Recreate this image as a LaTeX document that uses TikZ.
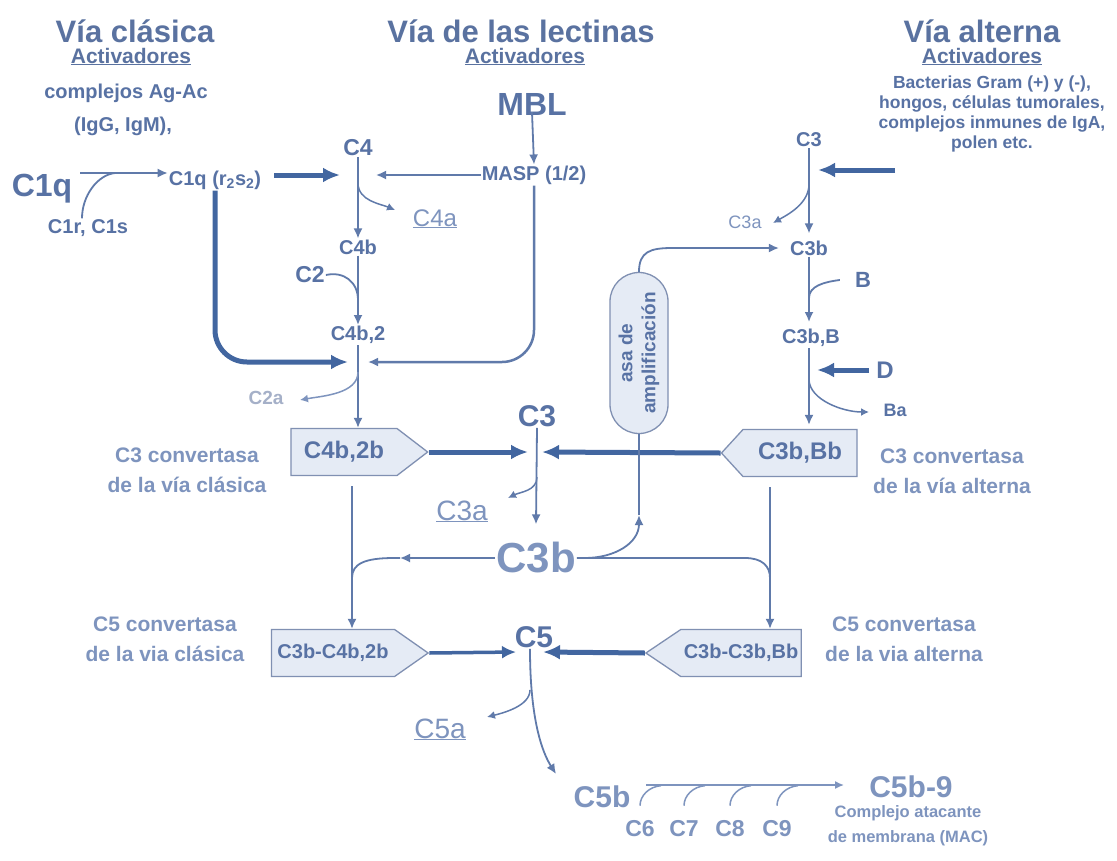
\documentclass[tikz,border=0pt]{standalone}
\usepackage{fontspec}
\setmainfont{Liberation Sans}
\usetikzlibrary{arrows.meta,shapes.symbols,shapes.misc}

\definecolor{titleblue}{RGB}{90,114,160}
\definecolor{inkblue}{RGB}{88,114,164}
\definecolor{paleblue}{RGB}{126,148,190}
\definecolor{greyblue}{RGB}{165,176,200}
\definecolor{lineblue}{RGB}{96,122,170}
\definecolor{heavyblue}{RGB}{66,102,160}
\definecolor{boxfill}{RGB}{229,235,245}
\definecolor{boxline}{RGB}{128,144,178}

\newcommand{\fsz}[1]{\fontsize{#1}{#1}\selectfont}

\tikzset{
  ttl/.style={text=titleblue, font=\bfseries\fsz{31}, inner sep=0pt},
  actv/.style={text=titleblue, font=\bfseries\fsz{21}, inner sep=0pt},
  lbl/.style={text=inkblue, font=\bfseries\fsz{#1}, inner sep=1pt},
  lbl/.default=20,
  pale/.style={text=paleblue, font=\bfseries\fsz{#1}, inner sep=1pt},
  frag/.style={text=paleblue, font=\fsz{#1}, inner sep=1pt},
  note/.style={text=paleblue, font=\bfseries\fontsize{21}{30}\selectfont, align=center, inner sep=1pt},
  conv/.style={signal, signal to=#1, draw=boxline, fill=boxfill, line width=1.3pt,
    minimum height=47pt, inner ysep=2pt, text=inkblue},
  pill/.style={rounded rectangle, rotate=90, draw=boxline, fill=boxfill, line width=1.3pt,
    minimum width=163pt, minimum height=58pt, inner sep=1pt, align=center, text=inkblue,
    font=\bfseries\fontsize{19}{23}\selectfont},
  plain/.style={draw=lineblue, line width=1.8pt},
  flow/.style={plain, -{Latex[length=10pt,width=9pt]}},
  side/.style={draw=lineblue, line width=1.5pt, -{Latex[length=8pt,width=8pt]}},
  med/.style={draw=heavyblue, line width=3.5pt, -{Latex[length=14pt,width=13pt]}},
  heavy/.style={draw=heavyblue, line width=5pt, -{Latex[length=17pt,width=15pt]}},
  faint/.style={draw=paleblue, line width=1.5pt},
}

\begin{document}
\begin{tikzpicture}[x=1pt,y=-1pt]
\useasboundingbox[fill=white] (0,0) rectangle (1117,860);

% activators
\node[ttl, anchor=base] (tclas) at (135,42) {Vía clásica};
\node[actv, anchor=base] (aclas) at (131,63) {\underline{Activadores}};
\node[lbl] (agac) at (126,93) {complejos Ag-Ac};
\node[lbl] (igm) at (123,126) {(IgG, IgM),};
\node[ttl, anchor=base] (tlec) at (521,42) {Vía de las lectinas};
\node[actv, anchor=base] (alec) at (525,63) {\underline{Activadores}};
\node[lbl=32] (mbl) at (532,104) {MBL};
\node[ttl, anchor=base] (talt) at (982,42) {Vía alterna};
\node[actv, anchor=base] (aalt) at (982,63) {\underline{Activadores}};
\node[lbl, font=\bfseries\fontsize{17.5}{20}\selectfont, align=center] (bact) at (992,114)
  {Bacterias Gram (+) y (-),\\hongos, células tumorales,\\complejos inmunes de IgA,\\polen etc.};

% classical and lectin pathways
\node[lbl=32, anchor=base] (c1q) at (42,196) {C1q};
\node[lbl] (c1rs) at (88,228) {C1r, C1s};
\node[lbl] (c1qr) at (215,180) {C1q (r\textsubscript{2}s\textsubscript{2})};
\node[lbl=23] (c4) at (358,148) {C4};
\node[frag=24, anchor=base] (c4a) at (435,226) {\underline{C4a}};
\node[lbl] (masp) at (534,175) {MASP (1/2)};
\node[lbl] (c4b) at (358,247) {C4b};
\node[lbl=23] (c2) at (310,275) {C2};
\node[lbl] (c4b2) at (358,335) {C4b,2};
\node[text=greyblue, font=\bfseries\fsz{19}, inner sep=1pt] (c2a) at (266,398) {C2a};
\node[conv=east, font=\bfseries\fsz{24}, inner xsep=13pt, signal pointer angle=75] (cv1) at (344,452) {C4b,2b};
\node[note] (cl3) at (187,470) {C3 convertasa\\de la vía clásica};

\coordinate (k0) at (80,173);
\coordinate (k1) at (115,173);
\coordinate (k4) at (358,175);
\coordinate (kc2) at (358,300);
\coordinate (k42) at (358,362);
\coordinate (c4atip) at (395,210);
\coordinate (c2atip) at (300,400);

\draw[flow] (k0) -- (c1qr.west |- k0);
\draw[plain] ([xshift=-6pt]c1rs.north) .. controls +(0,-22) and +(-18,2) .. (k1);
\draw[heavy, shorten <=12pt] (c1qr.east |- k4) -- ([xshift=-18pt]k4);
\draw[flow] (masp.west) -- ([xshift=18pt]k4);
\draw[flow] ([yshift=4pt]mbl.south) -- (masp.north);
\draw[flow] (c4.south) -- (c4b.north);
\draw[side] ([yshift=-8pt]k4) .. controls +(0,18) and +(-14,-6) .. (c4atip);
\draw[flow] (c4b.south) -- (c4b2.north);
\draw[plain] (c2.east) .. controls +(18,-4) and +(0,-18) .. (kc2);
\draw[heavy, rounded corners=32pt] (c1qr.south) |- ([xshift=-10pt]k42);
\draw[flow, line width=2.5pt, rounded corners=32pt] (masp.south) |- ([xshift=10pt]k42);
\draw[flow] (c4b2.south) -- (c4b2.south |- cv1.north);
\draw[faint, -{Latex[length=8pt,width=8pt]}] ([yshift=-10pt]k42) .. controls +(0,22) and +(22,-4) .. (c2atip);

% C3 level
\node[lbl=30] (c3) at (537,416) {C3};
\node[frag=28, anchor=base] (c3a) at (462,520) {\underline{C3a}};
\node[pale=42] (c3b) at (536,558) {C3b};

% alternative pathway
\node[lbl] (c3r) at (809,140) {C3};
\node[frag=18] (c3ar) at (745,222) {C3a};
\node[lbl] (c3br) at (809,248) {C3b};
\node[lbl=22] (fb) at (863,280) {B};
\node[lbl] (c3bB) at (811,338) {C3b,B};
\node[lbl=24] (fd) at (885,370) {D};
\node[lbl=18] (ba) at (895,410) {Ba};
\node[conv=west, font=\bfseries\fsz{24}, inner xsep=15pt, signal pointer angle=95] (cv2) at (800,453) {C3b,Bb};
\node[note] (cr3) at (952,471) {C3 convertasa\\de la vía alterna};
\node[pill] (pill) at (639,353) {asa de\\amplificación};

\coordinate (k3) at (537,452);
\coordinate (c3atip) at (508,498);
\coordinate (k3r) at (809,170);
\coordinate (altsrc) at (895,170);
\coordinate (c3artip) at (773,223);
\coordinate (kb) at (809,298);
\coordinate (kd) at (809,370);
\coordinate (batip) at (869,412);

\draw[heavy] (cv1.east) -- ([xshift=-9pt]k3);
\draw[heavy] (cv2.west) -- ([xshift=5pt]k3);
\draw[flow] (c3.south) -- ([yshift=17pt]c3b.north);
\draw[side] ([yshift=-25pt]k3) .. controls +(0,14) and +(12,-6) .. (c3atip);

\draw[flow, shorten >=6pt] (c3r.south) -- (c3r.south |- c3br.north);
\draw[heavy] (altsrc) -- ([xshift=9pt]k3r);
\draw[side] ([yshift=-14pt]k3r) .. controls +(0,20) and +(14,-8) .. (c3artip);
\draw[flow, shorten >=6pt] (c3br.south) -- (c3br.south |- c3bB.north);
\draw[plain] ([xshift=-14pt]fb.west) .. controls +(-16,2) and +(0,-12) .. (kb);
\draw[flow, shorten >=4pt] (c3br.south |- c3bB.south) -- (c3br.south |- cv2.north);
\draw[heavy] ([xshift=-6pt]fd.west) -- ([xshift=8pt]kd);
\draw[side] ([yshift=-10pt]kd) .. controls +(1,20) and +(-26,0) .. (batip);

% amplification loop
\coordinate (ampup) at (639,515);
\coordinate (kamp) at (672,248);
\draw[flow] (pill.east) .. controls +(0,-20) and +(-22,0) .. (kamp) -- ([xshift=-10pt]c3br.west);
\draw[flow] ([xshift=8pt]c3b.east) .. controls +(30,0) and +(0,28) .. (ampup);
\draw[plain] (ampup) -- (pill.west);

% C5 convertases
\node[conv=east, font=\bfseries\fsz{20}, inner xsep=6pt, signal pointer angle=70] (cv3) at (333,653) {C3b-C4b,2b};
\node[conv=west, font=\bfseries\fsz{20}, inner xsep=3pt, signal pointer angle=68] (cv4) at (741,653) {C3b-C3b,Bb};
\node[note] (cl5) at (165,639) {C5 convertasa\\de la via clásica};
\node[note] (cr5) at (904,639) {C5 convertasa\\de la via alterna};

\coordinate (kl) at (352,500);
\coordinate (kr) at (770,500);
\coordinate (ml) at (400,558);
\coordinate (klj) at (352,578);
\coordinate (krj) at (770,578);

\draw[flow, shorten <=10pt] (cv1.south -| kl) -- (cv3.north -| kl);
\draw[flow] (c3b.west) -- (ml);
\draw[plain] (ml) -- ++(-6,0) .. controls +(-30,0) and +(0,-14) .. (klj);
\draw[plain] (c3b.east) -- (745,558) .. controls +(17,0) and +(0,-12) .. (krj);
\draw[flow, shorten <=10pt] (cv2.south -| kr) -- (cv4.north -| kr);

% C5 and MAC
\node[lbl=30] (c5) at (534,637) {C5};
\node[frag=28, anchor=base] (c5a) at (440,738) {\underline{C5a}};
\node[pale=30] (c5b) at (602,797) {C5b};
\node[pale=30] (c59) at (911,787) {C5b-9};
\node[text=paleblue, align=center, inner sep=0pt, font=\bfseries\fontsize{16.5}{25}\selectfont] (mac) at (908,826)
  {Complejo atacante\\de membrana (MAC)};

\coordinate (k5) at (530,652);
\coordinate (c5atip) at (487,717);
\coordinate (c5btip) at (556,774);
\coordinate (k9) at (646,785);
\coordinate (c59tip) at (844,785);

\draw[med] (cv3.east) -- ([xshift=-14pt]k5);
\draw[heavy] (cv4.west) -- ([xshift=13pt]k5);
\draw[flow] (c5.south -| k5) .. controls +(0,70) and +(-14,-22) .. (c5btip);
\draw[side] ([yshift=-38pt]k5) .. controls +(0,16) and +(16,-4) .. (c5atip);
\draw[faint, -{Latex[length=9pt,width=8pt]}] (k9) -- (c59tip);
\foreach \n/\x in {6/640,7/684,8/730,9/777} {
  \node[pale=23] (c\n) at (\x,829) {C\n};
  \draw[faint] ([yshift=14pt]c\n.north) .. controls +(0,-10) and +(-12,1) .. ([shift={(21pt,34pt)}]c\n.north);
}
\end{tikzpicture}
\end{document}
